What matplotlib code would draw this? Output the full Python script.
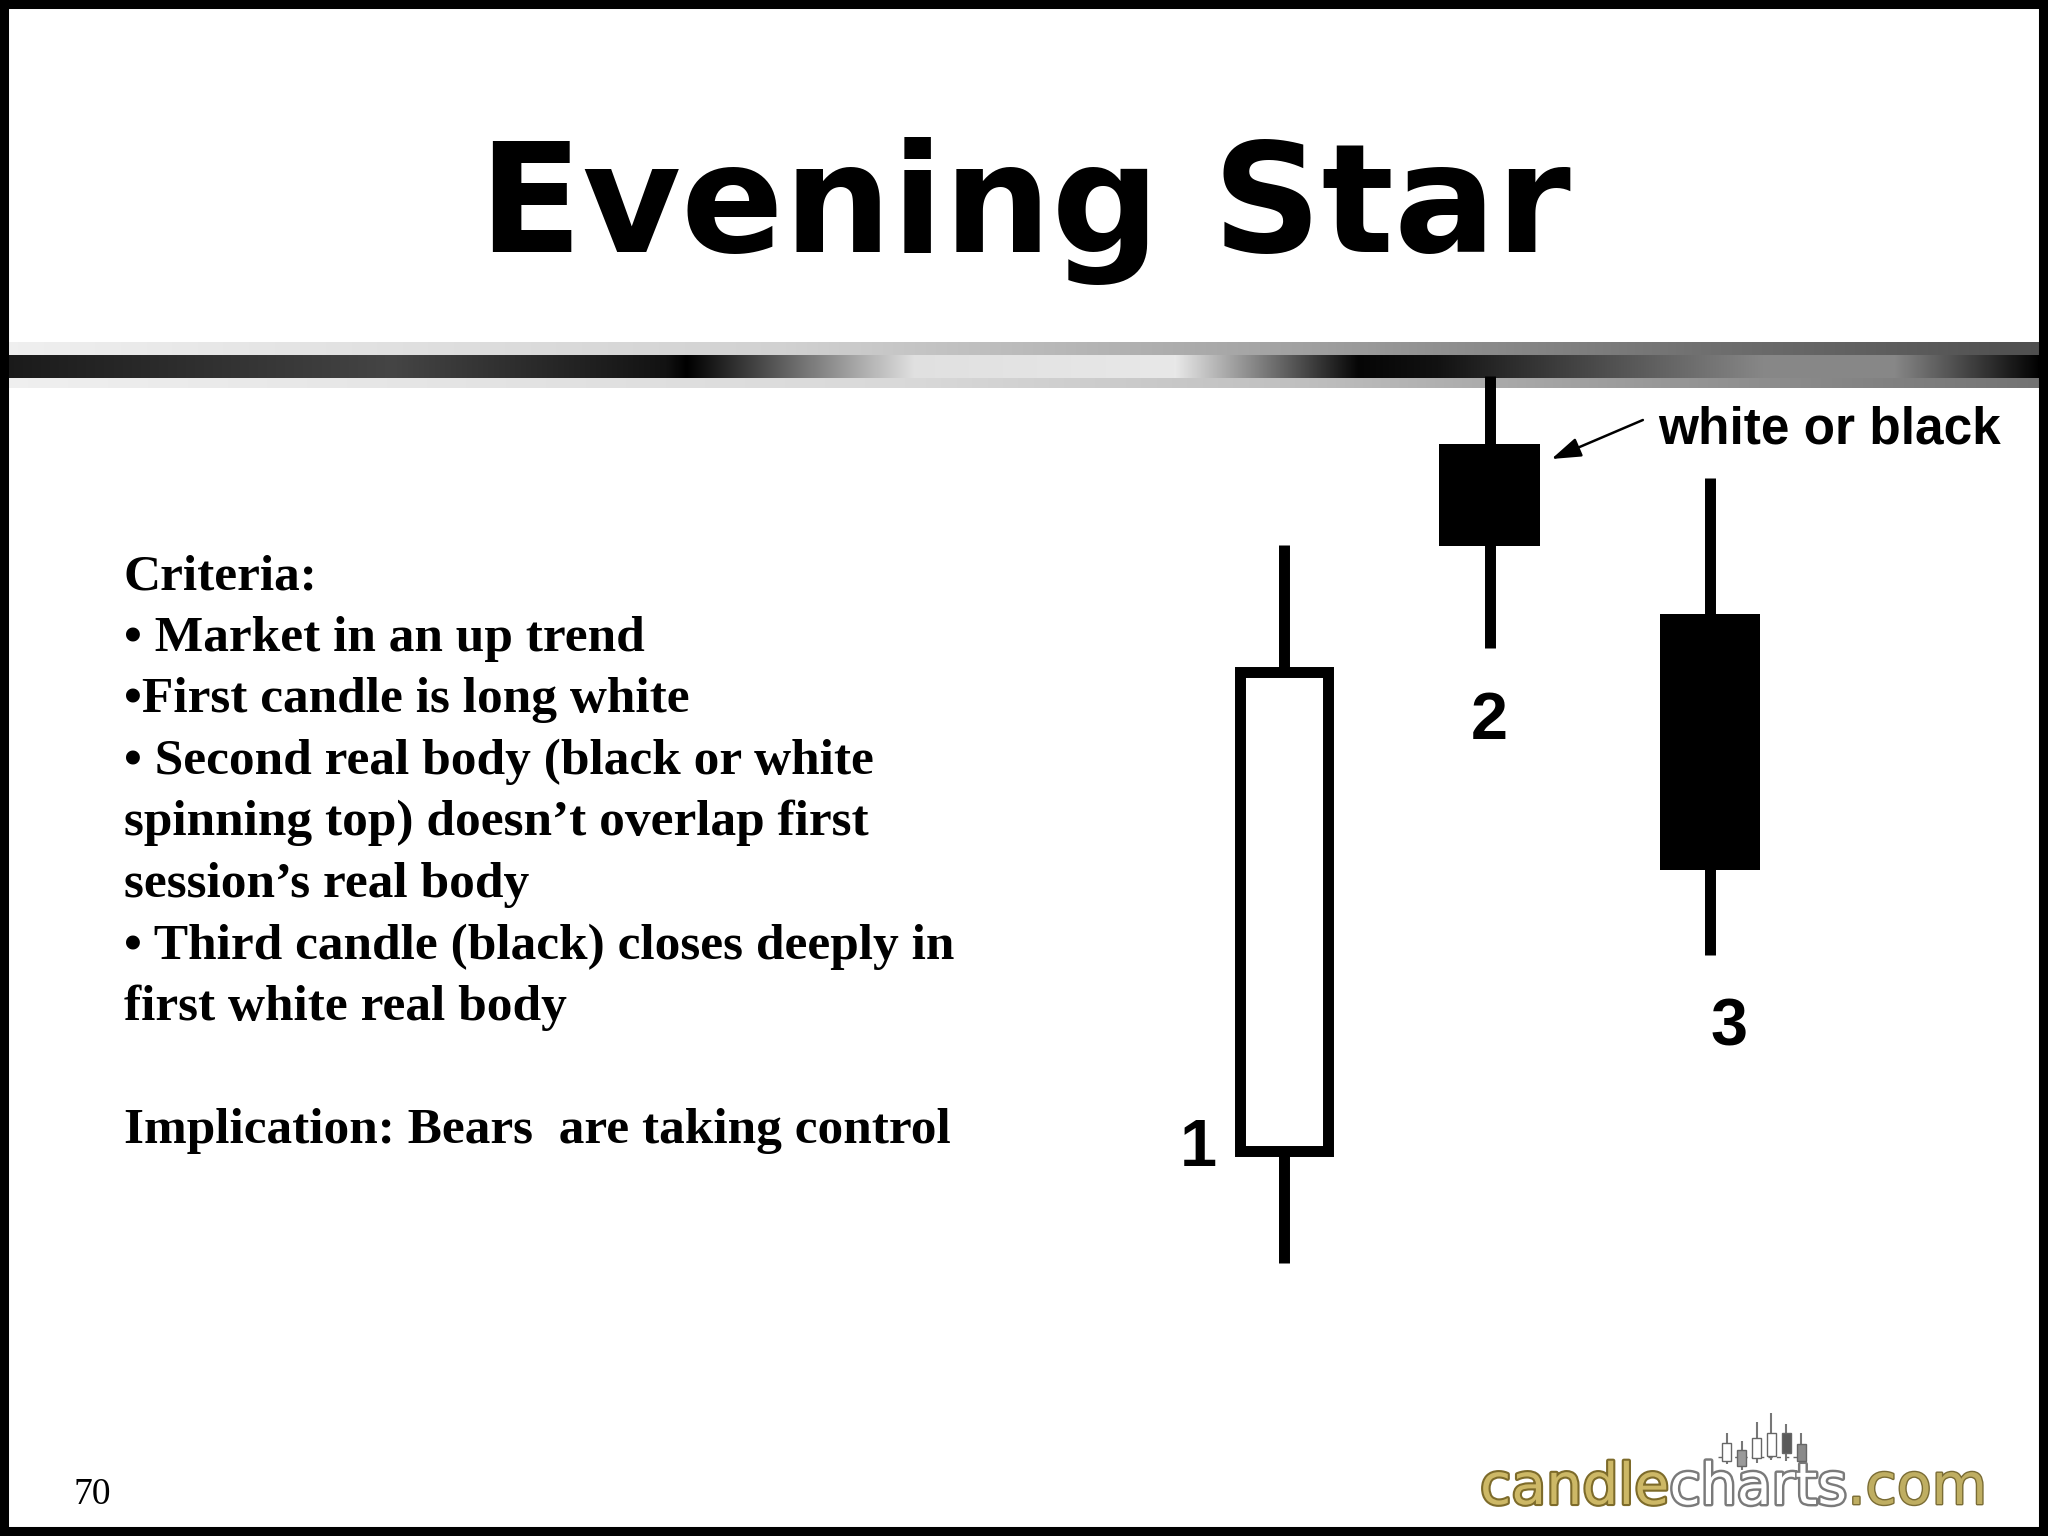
import numpy as np
import matplotlib.pyplot as plt
from matplotlib.patches import Rectangle
import matplotlib.patheffects as pe

W, H = 2048, 1536

title = "Evening Star"
text_lines = ["Criteria:",
              "• Market in an up trend",
              "•First candle is long white",
              "• Second real body (black or white",
              "spinning top) doesn’t overlap first",
              "session’s real body",
              "• Third candle (black) closes deeply in",
              "first white real body",
              "",
              "Implication: Bears  are taking control"]
page_no = "70"

# the three sessions of the pattern (price units)
sessions = [1, 1.965, 3]
opens = [24.9, 95.6, 78.6]
highs = [85.5, 102.4, 92.2]
lows = [13.7, 75.2, 44.5]
closes = [72.8, 85.4, 53.0]
candle_labels = ["1", "2", "3"]
note = "white or black"

# little candles of the logo
logo_x = [0, 1, 2, 3, 4, 5]
logo_open = [45, 80, 55, 60, 135, 100]
logo_close = [105, 30, 120, 135, 70, 45]
logo_high = [135, 110, 170, 200, 165, 135]
logo_low = [35, 15, 40, 50, 45, 35]
logo_fill = ["white", "#9a9a9a", "white", "white", "#5a5a5a", "#8a8a8a"]

fig = plt.figure(figsize=(20.48, 15.36), dpi=100)
ax = fig.add_axes([0, 0, 1, 1])
ax.set_xlim(0, W)
ax.set_ylim(H, 0)
ax.set_xticks([])
ax.set_yticks([])
for s in ax.spines.values():
    s.set_linewidth(13)
    s.set_color("black")

# shaded bar under the title
xs = np.arange(W)
def band(stops, vals):
    return np.interp(xs, stops, vals)
top = band([0, 784, 1306, 1698, 2040], [0.94, 0.82, 0.63, 0.44, 0.31])
mid = band([0, 392, 666, 686, 914, 1175, 1358, 1437, 1763, 1894, 2040],
           [0.10, 0.27, 0.07, 0.0, 0.88, 0.91, 0.02, 0.07, 0.53, 0.53, 0.0])
bot = band([0, 914, 1306, 1698, 2040], [0.94, 0.85, 0.75, 0.58, 0.45])
rows = [top] * 13 + [mid] * 23 + [bot] * 10
img = np.array(rows)
img = np.dstack([img, img, img])
ax.imshow(img, extent=(0, W, 388, 342), aspect="auto", interpolation="bilinear", zorder=1)
ax.set_xlim(0, W)
ax.set_ylim(H, 0)

ax.text(1025, 252, title, ha="center", va="baseline", fontsize=109,
        fontweight="bold", family="DejaVu Sans")

y0 = 589
for i, line in enumerate(text_lines):
    ax.text(124, y0 + i * 61.6, line, ha="left", va="baseline", fontsize=37,
            fontweight="bold", family="Liberation Serif")

ax.text(74, 1504, page_no, ha="left", va="baseline", fontsize=27,
        family="Liberation Serif")

# logo text
t1 = ax.text(1480, 1504, "candle", ha="left", va="baseline", fontsize=41,
             color="#cdb866", family="DejaVu Sans",
             path_effects=[pe.withStroke(linewidth=3, foreground="#7d6b2a")])
t2 = ax.annotate("charts", xy=(1, 0), xycoords=t1, ha="left", va="bottom",
                 fontsize=41, color="white", family="DejaVu Sans",
                 path_effects=[pe.withStroke(linewidth=3.5, foreground="#7a7a7a")])
t3 = ax.annotate(".com", xy=(1, 0), xycoords=t2, ha="left", va="bottom",
                 fontsize=41, color="#bfae62", family="DejaVu Sans",
                 path_effects=[pe.withStroke(linewidth=2, foreground="#7a6c35")])

# logo candles
axl = fig.add_axes([1718 / W, 1 - 1475 / H, 92 / W, 65 / H])
axl.patch.set_alpha(0)
axl.axis("off")
axl.set_xlim(-0.6, 5.6)
axl.set_ylim(0, 210)
axl.vlines(logo_x, logo_low, logo_high, colors="#777777", lw=1.5, zorder=1)
for x, o, c, f in zip(logo_x, logo_open, logo_close, logo_fill):
    axl.add_patch(Rectangle((x - 0.3, min(o, c)), 0.6, abs(c - o), fc=f,
                            ec="#666666", lw=1, zorder=2))
axl.axhline(58, color="#666666", lw=1, ls=(0, (3, 3)), zorder=0)

# pattern candles
axc = fig.add_axes([0, 0, 1, 1])
axc.patch.set_alpha(0)
axc.axis("off")
axc.set_xlim(-5.028, 4.587)
axc.set_ylim(-13.6, 140)

axc.vlines(sessions, lows, highs, colors="black", lw=7.9, zorder=2)
for s, o, c in zip(sessions, opens, closes):
    if c > o:
        axc.add_patch(Rectangle((s - 0.205, o), 0.41, c - o, fc="white",
                                ec="black", lw=7.9, zorder=3))
    else:
        axc.add_patch(Rectangle((s - 0.235, c), 0.47, o - c, fc="black",
                                ec="none", zorder=3))

label_pos = [(0.6, 23.4), (1.965, 66.1), (3.09, 35.4)]
for lab, (lx, ly) in zip(candle_labels, label_pos):
    axc.text(lx, ly, lab, ha="center", va="baseline", fontsize=48,
             fontweight="bold", family="Liberation Sans")

axc.text(2.756, 95.6, note, ha="left", va="baseline", fontsize=37,
         fontweight="bold", family="Liberation Sans")
axc.annotate("", xy=(2.256, 94.1), xytext=(2.685, 98.0),
             arrowprops=dict(arrowstyle="-|>,head_length=0.9,head_width=0.3",
                             lw=1.8, color="black", mutation_scale=20,
                             shrinkA=0, shrinkB=0))

fig.savefig("out.png", dpi=100)
